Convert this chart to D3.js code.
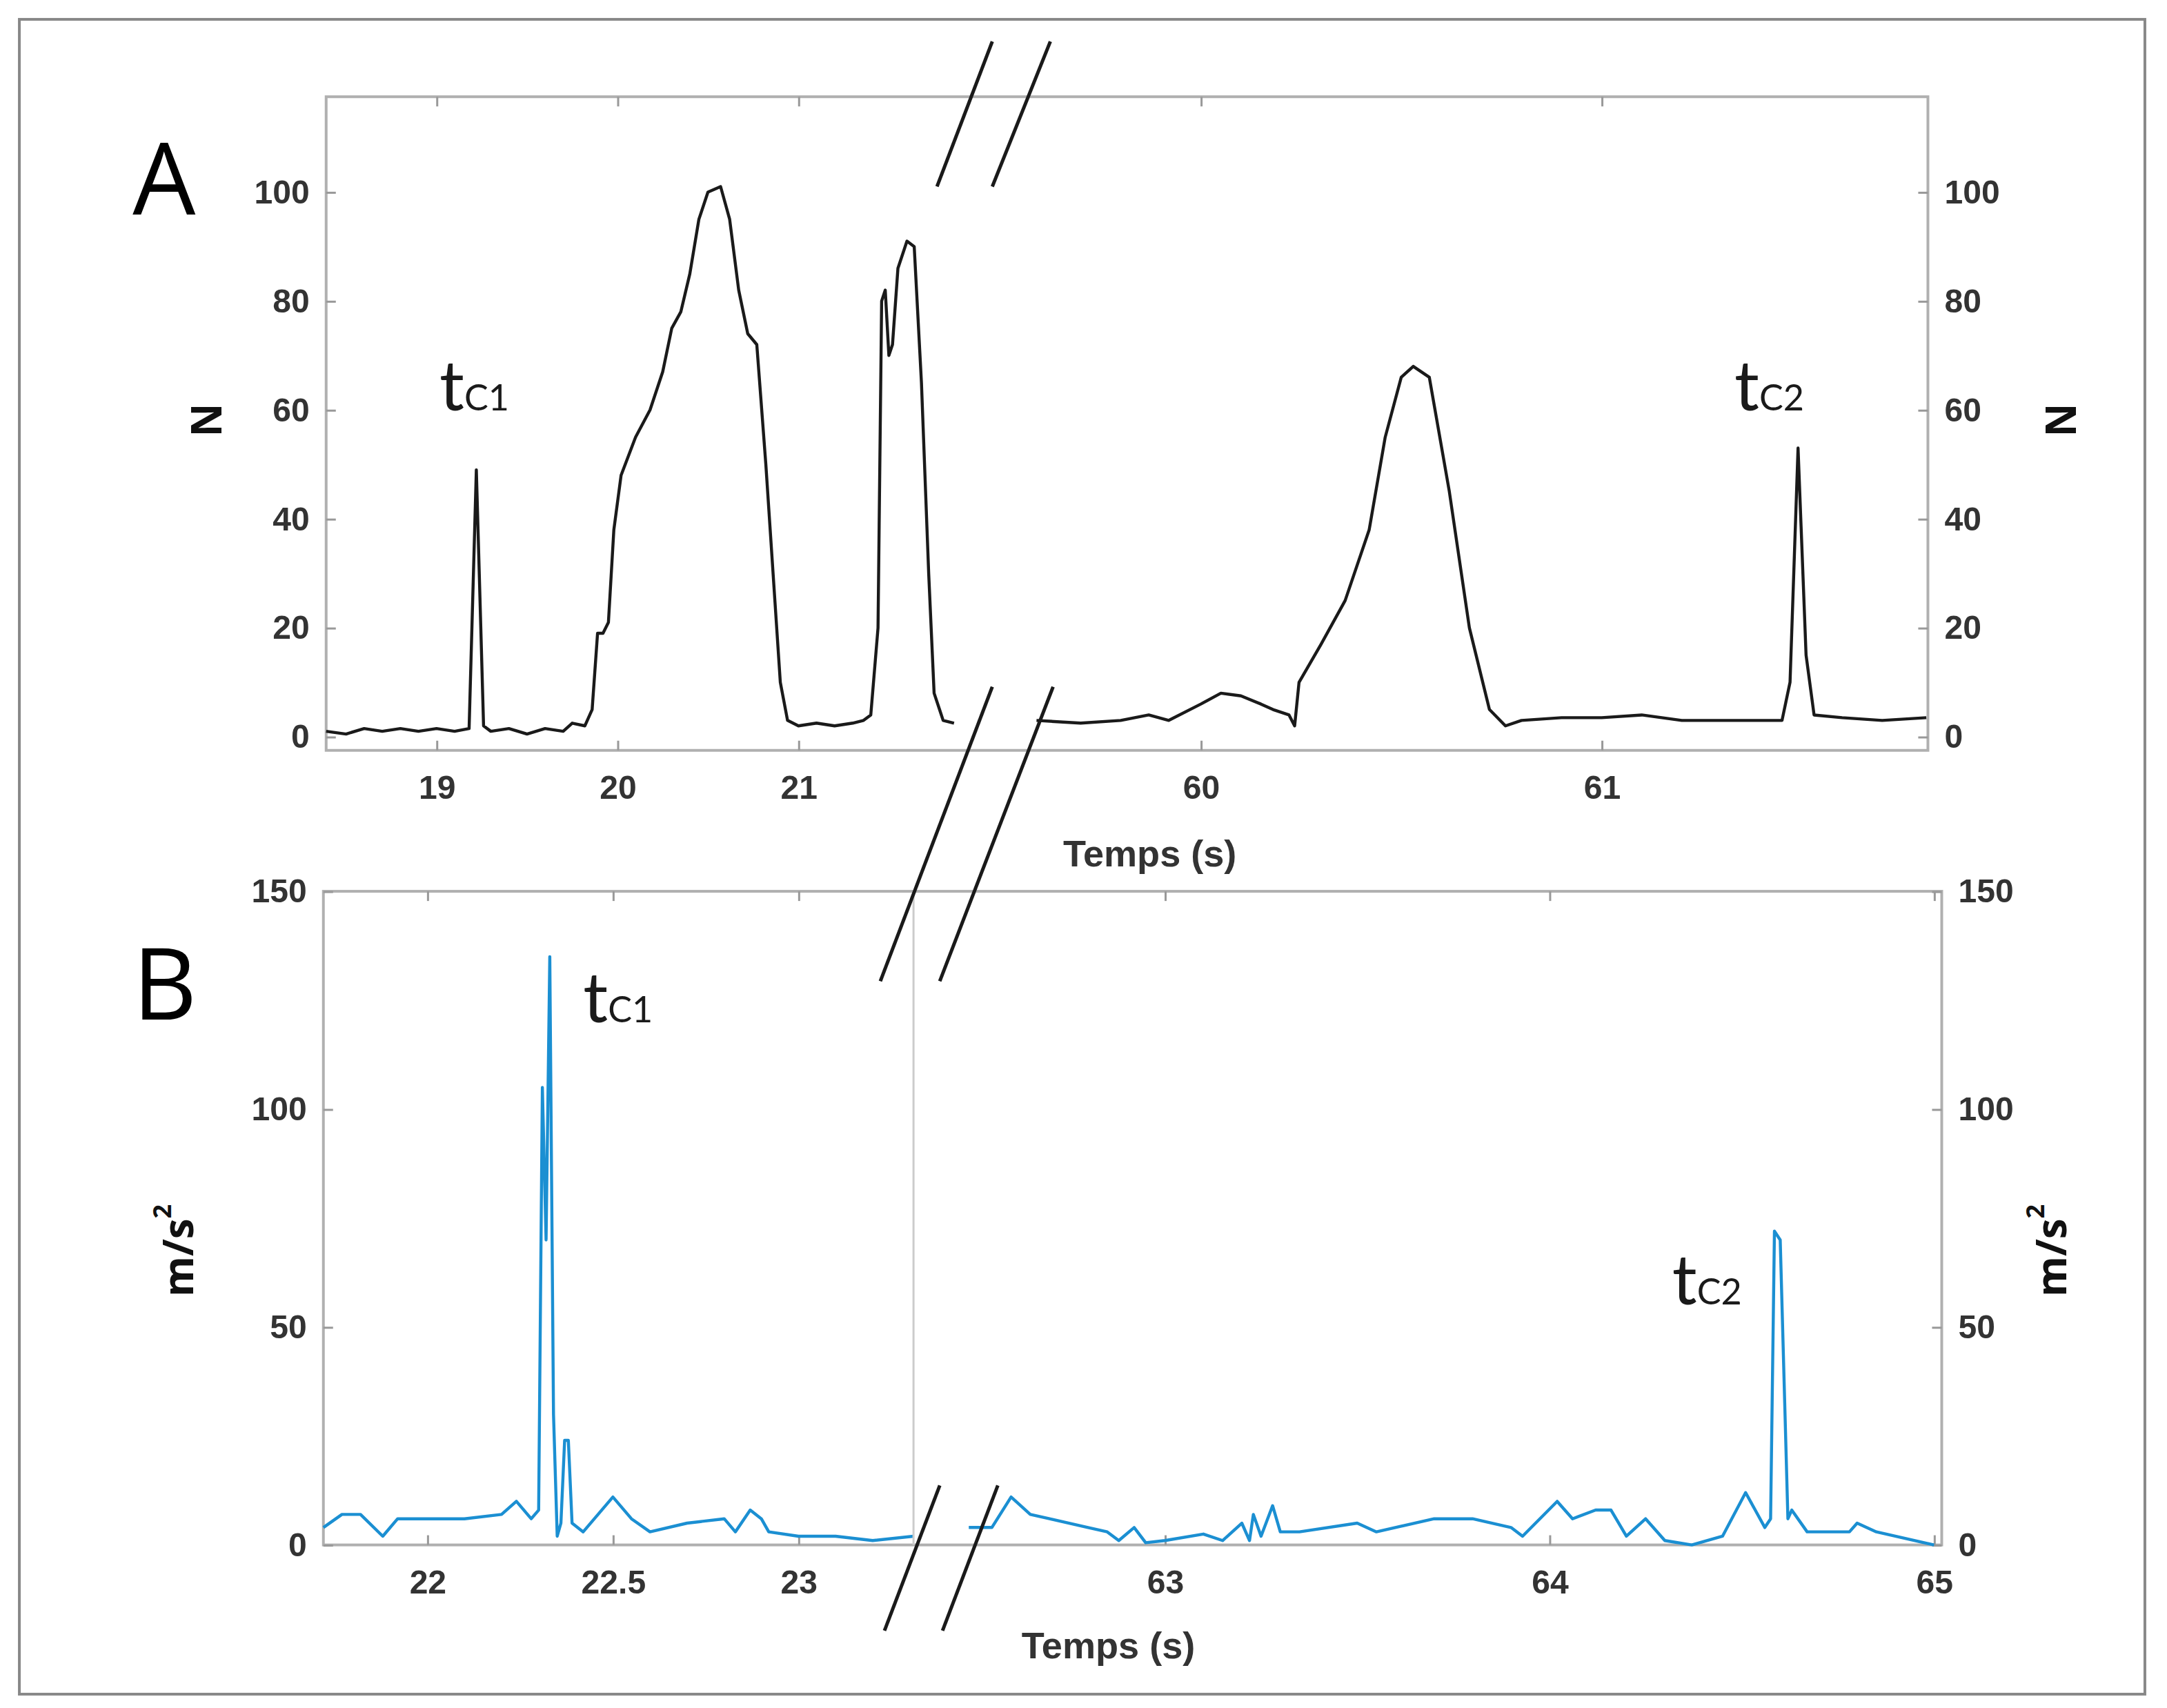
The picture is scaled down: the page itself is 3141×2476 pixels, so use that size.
<!DOCTYPE html>
<html><head><meta charset="utf-8">
<script src="https://cdn.jsdelivr.net/npm/d3@7"></script>
<style>body{margin:0;background:#fff}</style></head>
<body><svg id="c" width="3141" height="2476" viewBox="0 0 1568 1236"></svg>
<script>
// Panel A (force, N)
const aLeftT = [18.39,18.5,18.6,18.7,18.8,18.9,19.0,19.1,19.18,19.22,19.26,19.3,19.4,19.5,19.6,19.7,19.75,19.82,19.86,19.89,19.92,19.95,19.98,20.02,20.1,20.18,20.25,20.3,20.35,20.4,20.45,20.5,20.57,20.62,20.67,20.72,20.77,20.82,20.87,20.9,20.94,21.0,21.1,21.2,21.3,21.36,21.4,21.44,21.46,21.48,21.5,21.52,21.55,21.6,21.64,21.68,21.72,21.75,21.78,21.8,21.86];
const aLeftV = [1,0.5,1.5,1,1.5,1,1.5,1,1.5,49,2,1,1.5,0.5,1.5,1,2.5,2,5,19,19,21,38,48,55,60,67,75,78,85,95,100,101,95,82,74,72,50,25,10,3,2,2.5,2,2.5,3,4,20,80,82,70,72,86,91,90,65,30,8,5,3,2.5];
const aRightT = [59.59,59.7,59.8,59.87,59.92,60.0,60.05,60.1,60.15,60.18,60.22,60.234,60.245,60.3,60.36,60.42,60.46,60.5,60.53,60.57,60.62,60.67,60.72,60.76,60.8,60.9,61.0,61.1,61.2,61.3,61.45,61.47,61.49,61.51,61.53,61.6,61.7,61.81];
const aRightV = [3,2.5,3,4,3,6,8,7.5,6,5,4,2,10,17,25,38,55,66,68,66,45,20,5,2,3,3.5,3.5,4,3,3,3,10,53,15,4,3.5,3,3.5];
const aTicksL = [19,20,21], aTicksR = [60,61], aYTicks = [0,20,40,60,80,100];
// Panel B (acceleration, m/s²)
const bLeftT = [21.72,21.77,21.82,21.88,21.92,22.0,22.1,22.2,22.24,22.28,22.3,22.31,22.32,22.33,22.34,22.35,22.36,22.37,22.38,22.39,22.42,22.5,22.55,22.6,22.7,22.8,22.83,22.87,22.9,22.92,23.0,23.1,23.2,23.31];
const bLeftV = [4,7,7,2,6,6,6,7,10,6,8,105,70,135,30,2,5,24,24,5,3,11,6,3,5,6,3,8,6,3,2,2,1,2];
const bRightT = [62.49,62.55,62.6,62.65,62.7,62.8,62.85,62.88,62.92,62.95,63.0,63.1,63.15,63.2,63.22,63.23,63.25,63.28,63.3,63.35,63.5,63.55,63.7,63.8,63.9,63.93,64.02,64.06,64.12,64.16,64.2,64.25,64.3,64.37,64.45,64.51,64.56,64.575,64.585,64.6,64.62,64.63,64.67,64.78,64.8,64.85,65.0];
const bRightV = [4,4,11,7,6,4,3,1,4,0.5,1,2.5,1,5,1,7,2,9,3,3,5,3,6,6,4,2,10,6,8,8,2,6,1,0,2,12,4,6,72,70,6,8,3,3,5,3,0];
const bTicksL = [22,22.5,23], bTicksR = [63,64,65], bYTicks = [0,50,100,150];

const svg = d3.select("#c");
const tickFont = "Liberation Sans, Arial, sans-serif";
svg.append("rect").attr("x",14).attr("y",14).attr("width",1538).attr("height",1212).attr("fill","none").attr("stroke","#888").attr("stroke-width",2);

function panel(o){
  const g = svg.append("g");
  const y = d3.scaleLinear().domain(o.yDom).range([o.y1,o.y0]);
  const xl = d3.scaleLinear().domain(o.lDom).range(o.lRange);
  const xr = d3.scaleLinear().domain(o.rDom).range(o.rRange);
  g.append("rect").attr("x",o.x0).attr("y",o.y0).attr("width",o.x1-o.x0).attr("height",o.y1-o.y0).attr("fill","none").attr("stroke","#b0b0b0").attr("stroke-width",2);
  const ax = (sel)=>{sel.selectAll(".domain").remove(); sel.selectAll("line").attr("stroke","#999").attr("stroke-width",1.5);
    sel.selectAll("text").attr("font-family",tickFont).attr("font-weight","bold").attr("font-size",24).attr("fill","#333");};
  g.append("g").attr("transform",`translate(${o.x0},0)`).call(d3.axisLeft(y).tickValues(o.yTicks).tickSize(-7).tickPadding(12)).call(ax);
  g.append("g").attr("transform",`translate(${o.x1},0)`).call(d3.axisRight(y).tickValues(o.yTicks).tickSize(-7).tickPadding(12)).call(ax);
  [[xl,o.tl],[xr,o.tr]].forEach(([x,t])=>{
    g.append("g").attr("transform",`translate(0,${o.y1})`).call(d3.axisBottom(x).tickValues(t).tickFormat(d3.format("")).tickSize(-7).tickPadding(18)).call(ax);
    g.append("g").attr("transform",`translate(0,${o.y0})`).call(d3.axisTop(x).tickValues(t).tickSize(-7).tickFormat("")).call(ax);
  });
  const line = (x)=>d3.line().x(d=>x(d[0])).y(d=>y(d[1]));
  g.append("path").attr("d",line(xl)(d3.zip(o.lT,o.lV))).attr("fill","none").attr("stroke",o.color).attr("stroke-width",2.2).attr("stroke-linejoin","round");
  g.append("path").attr("d",line(xr)(d3.zip(o.rT,o.rV))).attr("fill","none").attr("stroke",o.color).attr("stroke-width",2.2).attr("stroke-linejoin","round");
  return {y,xl,xr};
}

const A = panel({x0:236,x1:1395,y0:70,y1:543,yDom:[-2.5,117.5],lDom:[18.39,21.85],lRange:[236,689],rDom:[59.59,61.814],rRange:[750,1395],
  yTicks:aYTicks,tl:aTicksL,tr:aTicksR,lT:aLeftT,lV:aLeftV,rT:aRightT,rV:aRightV,color:"#1a1a1a"});
const B = panel({x0:234,x1:1405,y0:645,y1:1118,yDom:[0,150],lDom:[21.72,23.31],lRange:[234,661],rDom:[62.49,65.02],rRange:[701,1405],
  yTicks:bYTicks,tl:bTicksL,tr:bTicksR,lT:bLeftT,lV:bLeftV,rT:bRightT,rV:bRightV,color:"#1b8fd2"});
svg.append("line").attr("x1",661).attr("x2",661).attr("y1",645).attr("y2",1118).attr("stroke","#ccc").attr("stroke-width",1.5);

// break marks
const brk = [[678,135,718,30],[718,135,760,30],[718,497,637,710],[762,497,680,710],[680,1075,640,1180],[722,1075,682,1180]];
svg.selectAll(".brk").data(brk).enter().append("line").attr("x1",d=>d[0]).attr("y1",d=>d[1]).attr("x2",d=>d[2]).attr("y2",d=>d[3]).attr("stroke","#1a1a1a").attr("stroke-width",2.5);

const lbl = "Open Sans, Liberation Sans, sans-serif";
svg.append("text").attr("x",96).attr("y",155).attr("font-family",lbl).attr("font-size",72).text("A");
svg.append("text").attr("x",96).attr("y",738).attr("font-family",lbl).attr("font-size",72).text("B");
function tc(x,yy,sub){const t=svg.append("text").attr("x",x).attr("y",yy).attr("font-family","Lato, sans-serif").attr("font-size",50).attr("fill","#1a1a1a");
  t.append("tspan").text("t"); t.append("tspan").attr("font-size",26).text(sub);}
tc(318,297,"C1"); tc(1255,297,"C2"); tc(422,740,"C1"); tc(1210,944,"C2");
function ylab(x,yy,txt,sup){const t=svg.append("text").attr("transform",`translate(${x},${yy}) rotate(-90)`).attr("text-anchor","middle").attr("font-family",lbl).attr("font-weight","bold").attr("font-size",30).attr("fill","#111");
  t.append("tspan").text(txt); if(sup) t.append("tspan").attr("font-size",18).attr("dy",-16).text(sup);}
ylab(160,304,"N"); ylab(1502,304,"N"); ylab(140,905,"m/s","2"); ylab(1495,905,"m/s","2");
svg.append("text").attr("x",832).attr("y",627).attr("text-anchor","middle").attr("font-family",tickFont).attr("font-weight","bold").attr("font-size",27).attr("fill","#333").text("Temps (s)");
svg.append("text").attr("x",802).attr("y",1200).attr("text-anchor","middle").attr("font-family",tickFont).attr("font-weight","bold").attr("font-size",27).attr("fill","#333").text("Temps (s)");
</script></body></html>
